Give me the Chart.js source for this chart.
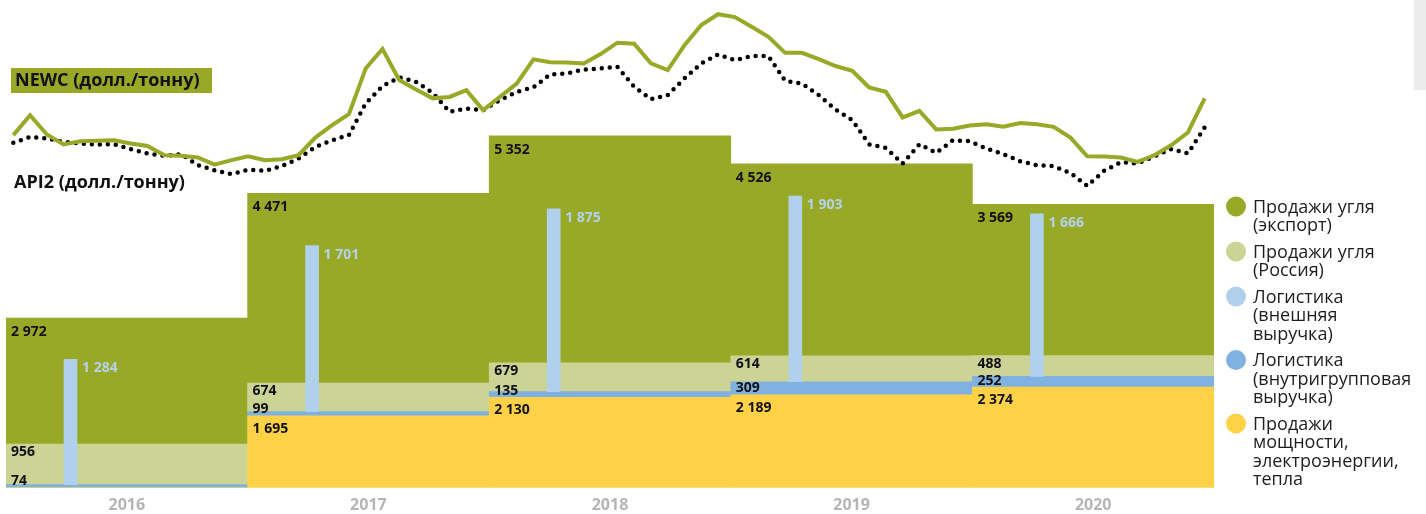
<!DOCTYPE html>
<html>
<head>
<meta charset="utf-8">
<script src="https://cdn.jsdelivr.net/npm/chart.js@4.4.0/dist/chart.umd.min.js"></script>
<style>
    html, body { margin: 0; padding: 0; background: #fff; overflow: hidden; }
    #wrap { position: relative; width: 1426px; height: 514px; }
    #scrollbar { position: absolute; left: 1414px; top: 0; width: 12px; height: 90px; background: #ececec; }
</style>
</head>
<body>
<div id="wrap">
    <canvas id="revenueChart" width="1426" height="514"></canvas>
    <div id="scrollbar"></div>
</div>
<script>
// Years
const years = ['2016', '2017', '2018', '2019', '2020'];

// Revenue segments, stacked from the bottom up
const powerSales = [0, 1695, 2130, 2189, 2374];
const logisticsInternal = [74, 99, 135, 309, 252];
const coalRussia = [956, 674, 679, 614, 488];
const coalExport = [2972, 4471, 5352, 4526, 3569];

// Logistics external revenue (narrow bar, drawn on its own scale)
const logisticsExternal = [1284, 1701, 1875, 1903, 1666];

// Monthly coal prices, USD per tonne
const newcPrices = [
    63.5, 73.3, 63.8, 58.9, 60.5, 60.7, 61.0, 59.4, 58.2, 53.6, 53.3, 52.5,
    49.0, 51.2, 53.1, 51.2, 51.6, 53.6, 62.3, 68.4, 73.8, 96.3, 105.9, 90.6,
    86.0, 81.6, 82.3, 85.6, 75.8, 82.3, 88.9, 100.8, 99.4, 99.3, 98.8, 103.4,
    109.0, 108.5, 98.8, 95.5, 107.8, 117.7, 123.0, 121.6, 116.8, 111.9, 104.0, 104.0,
    100.9, 97.5, 95.2, 87.0, 84.8, 72.2, 75.4, 66.3, 66.6, 68.2, 68.9, 67.6,
    69.5, 68.9, 67.6, 62.3, 53.1, 53.0, 52.5, 50.3, 53.6, 58.5, 64.8, 81.6
];
const api2Prices = [
    59.7, 62.6, 61.8, 60.2, 59.4, 58.9, 59.0, 56.6, 54.5, 53.3, 54.1, 48.7,
    46.2, 44.3, 46.5, 45.9, 48.3, 52.0, 57.7, 61.0, 63.5, 79.1, 87.6, 91.9,
    89.7, 84.3, 75.0, 76.6, 75.8, 80.7, 84.8, 87.0, 93.4, 93.9, 95.8, 96.3,
    97.1, 87.3, 81.2, 83.2, 91.4, 98.8, 103.2, 100.4, 102.4, 102.4, 90.2, 88.9,
    83.2, 76.1, 70.9, 59.0, 57.2, 49.5, 59.0, 54.8, 61.0, 60.5, 56.9, 54.1,
    50.7, 48.7, 48.2, 44.9, 38.5, 45.9, 50.2, 49.5, 53.1, 56.6, 54.5, 67.3
];

// Legend texts
const legendLabels = [
    ['Продажи угля', '(экспорт)'],
    ['Продажи угля', '(Россия)'],
    ['Логистика', '(внешняя', 'выручка)'],
    ['Логистика', '(внутригрупповая', 'выручка)'],
    ['Продажи', 'мощности,', 'электроэнергии,', 'тепла']
];

const COLORS = {
    export: '#98a827',
    russia: '#cbd494',
    external: '#b1d0eb',
    internal: '#7fb2e0',
    power: '#ffd147'
};
const legendColors = [COLORS.export, COLORS.russia, COLORS.external, COLORS.internal, COLORS.power];

const Y_MAX = 11500;
const Y2_MAX = 5000;
const FONT = '"Open Sans", "DejaVu Sans", sans-serif';

// External logistics bars float on top of the internal logistics segment
const externalBars = logisticsExternal.map((v, i) => {
    const lo = (powerSales[i] + logisticsInternal[i]) * Y2_MAX / Y_MAX;
    return { x: i, y: [lo, lo + v] };
});

function fmt(v) {
    return String(v).replace(/\B(?=(\d{3})+(?!\d))/g, ' ');
}

// Value labels next to the bars
const segmentLabels = {
    id: 'segmentLabels',
    afterDatasetsDraw(chart) {
        const ctx = chart.ctx;
        ctx.save();
        ctx.font = 'bold 14px ' + FONT;
        ctx.textBaseline = 'middle';
        ctx.textAlign = 'left';
        chart.data.datasets.forEach((ds, di) => {
            if (!ds.labelAt) return;
            const meta = chart.getDatasetMeta(di);
            meta.data.forEach((el, i) => {
                const raw = ds.values[i];
                if (!raw) return;
                const p = el.getProps(['x', 'y', 'base', 'width'], true);
                const top = Math.min(p.y, p.base);
                const bottom = Math.max(p.y, p.base);
                let tx, ty;
                if (ds.labelAt === 'side') {
                    tx = p.x + p.width / 2 + 5;
                    ty = top + 9;
                } else {
                    tx = p.x - p.width / 2 + 5;
                    ty = ds.labelAt === 'bottom' ? bottom - ds.labelOffset : top + ds.labelOffset;
                }
                ctx.fillStyle = ds.labelColor;
                ctx.fillText(fmt(raw), tx, ty);
            });
        });
        ctx.restore();
    }
};

// Price captions and the right-hand legend
const captions = {
    id: 'captions',
    afterDraw(chart) {
        const ctx = chart.ctx;
        ctx.save();
        ctx.fillStyle = COLORS.export;
        ctx.fillRect(11, 68, 201, 25);
        ctx.font = 'bold 18px ' + FONT;
        ctx.textBaseline = 'middle';
        ctx.fillStyle = '#111';
        ctx.fillText('NEWC (долл./тонну)', 15, 81);
        ctx.fillText('API2 (долл./тонну)', 14, 182.5);

        ctx.font = '18px ' + FONT;
        let y = 207.5;
        legendLabels.forEach((lines, i) => {
            ctx.fillStyle = legendColors[i];
            ctx.beginPath();
            ctx.arc(1236, y - 1, 10, 0, Math.PI * 2);
            ctx.fill();
            ctx.fillStyle = '#1e1e1e';
            lines.forEach((t, j) => ctx.fillText(t, 1253, y + j * 18.5));
            y += lines.length * 18.5 + 8;
        });
        ctx.restore();
    }
};

function stackSet(label, values, color, labelAt, labelOffset) {
    return {
        type: 'bar',
        label: label,
        data: values,
        values: values,
        backgroundColor: color,
        borderWidth: 0,
        grouped: false,
        barPercentage: 1,
        categoryPercentage: 1,
        xAxisID: 'x',
        yAxisID: 'y',
        order: 2,
        labelAt: labelAt,
        labelOffset: labelOffset,
        labelColor: '#111'
    };
}

const ctx = document.getElementById('revenueChart').getContext('2d');
new Chart(ctx, {
    data: {
        labels: years,
        datasets: [
            {
                type: 'line',
                label: 'NEWC',
                data: newcPrices.map((v, i) => ({ x: i, y: v })),
                borderColor: COLORS.export,
                borderWidth: 4,
                pointRadius: 0,
                tension: 0,
                xAxisID: 'xm',
                yAxisID: 'yp',
                order: 0
            },
            {
                type: 'line',
                label: 'API2',
                data: api2Prices.map((v, i) => ({ x: i, y: v })),
                borderColor: '#000',
                borderWidth: 4.5,
                borderDash: [0, 8],
                borderCapStyle: 'round',
                pointRadius: 0,
                tension: 0,
                xAxisID: 'xm',
                yAxisID: 'yp',
                order: 0
            },
            stackSet('Продажи мощности, электроэнергии, тепла', powerSales, COLORS.power, 'top', 13),
            stackSet('Логистика (внутригрупповая выручка)', logisticsInternal, COLORS.internal, 'bottom', 6.5),
            stackSet('Продажи угля (Россия)', coalRussia, COLORS.russia, 'top', 8),
            stackSet('Продажи угля (экспорт)', coalExport, COLORS.export, 'top', 14),
            {
                type: 'bar',
                label: 'Логистика (внешняя выручка)',
                data: externalBars,
                values: logisticsExternal,
                backgroundColor: COLORS.external,
                borderWidth: 0,
                grouped: false,
                barThickness: 13,
                xAxisID: 'x2',
                yAxisID: 'y2',
                order: 1,
                labelAt: 'side',
                labelColor: '#b4d2ed'
            }
        ]
    },
    options: {
        responsive: false,
        animation: false,
        layout: { padding: { left: 6, right: 212, top: 0, bottom: 0 } },
        plugins: {
            legend: { display: false },
            tooltip: { enabled: false }
        },
        scales: {
            x: {
                stacked: true,
                grid: { display: false, drawTicks: false, tickLength: 0 },
                border: { display: false },
                ticks: {
                    color: '#b5b5b5',
                    padding: 8,
                    font: { family: FONT, weight: 'bold', size: 16 }
                },
                afterFit: function(scale) {
                    scale.height = 26.3;
                }
            },
            y: { stacked: true, min: 0, max: Y_MAX, display: false },
            x2: { type: 'linear', min: -0.267, max: 4.733, offset: false, display: false },
            y2: { min: 0, max: Y2_MAX, display: false },
            xm: { type: 'linear', min: -0.435, max: 71.555, offset: false, display: false },
            yp: { min: -110, max: 130, display: false }
        }
    },
    plugins: [segmentLabels, captions]
});
</script>
</body>
</html>
